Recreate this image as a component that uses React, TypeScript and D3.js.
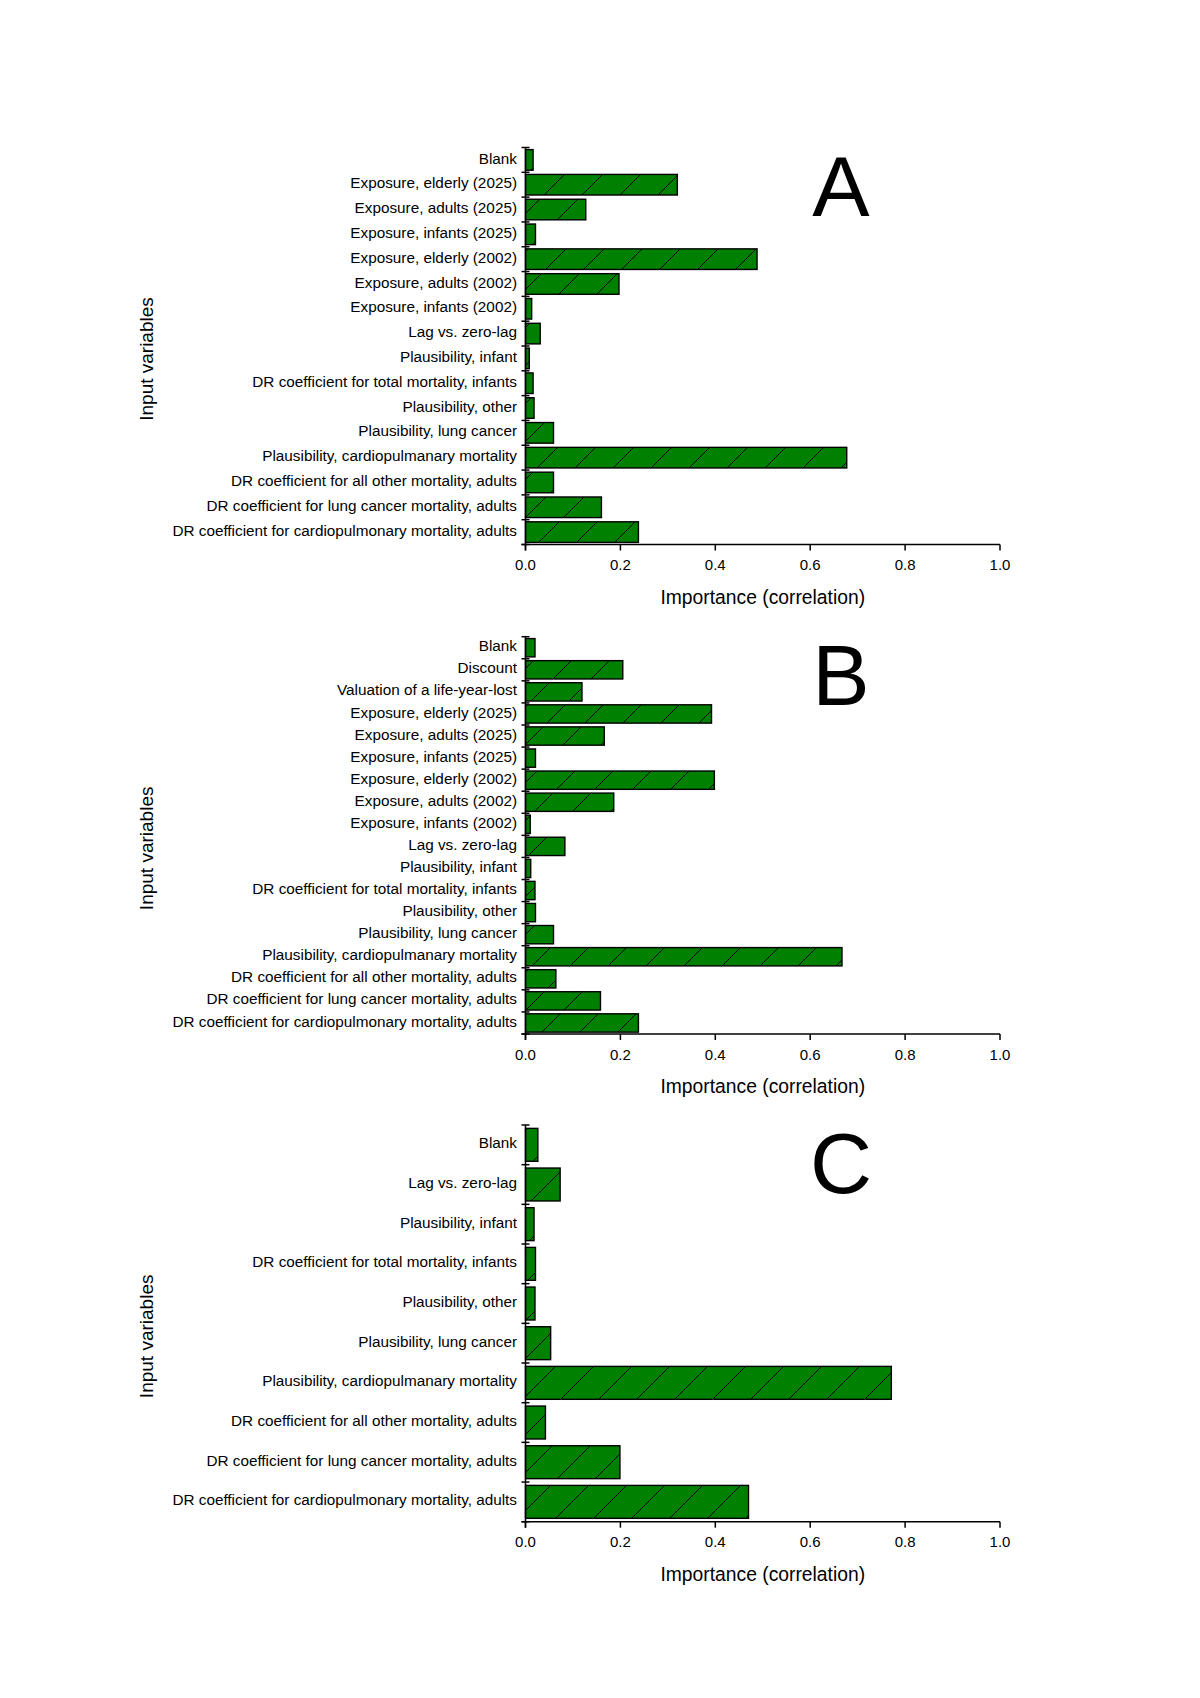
import React from "react";
import * as d3 from "d3";

const categoriesA = [
  "Blank",
  "Exposure, elderly (2025)",
  "Exposure, adults (2025)",
  "Exposure, infants (2025)",
  "Exposure, elderly (2002)",
  "Exposure, adults (2002)",
  "Exposure, infants (2002)",
  "Lag vs. zero-lag",
  "Plausibility, infant",
  "DR coefficient for total mortality, infants",
  "Plausibility, other",
  "Plausibility, lung cancer",
  "Plausibility, cardiopulmanary mortality",
  "DR coefficient for all other mortality, adults",
  "DR coefficient for lung cancer mortality, adults",
  "DR coefficient for cardiopulmonary mortality, adults",
];
const valuesA = [0.016, 0.32, 0.127, 0.021, 0.488, 0.197, 0.013, 0.031, 0.008, 0.016, 0.018, 0.059, 0.677, 0.059, 0.16, 0.238];

const categoriesB = [
  "Blank",
  "Discount",
  "Valuation of a life-year-lost",
  "Exposure, elderly (2025)",
  "Exposure, adults (2025)",
  "Exposure, infants (2025)",
  "Exposure, elderly (2002)",
  "Exposure, adults (2002)",
  "Exposure, infants (2002)",
  "Lag vs. zero-lag",
  "Plausibility, infant",
  "DR coefficient for total mortality, infants",
  "Plausibility, other",
  "Plausibility, lung cancer",
  "Plausibility, cardiopulmanary mortality",
  "DR coefficient for all other mortality, adults",
  "DR coefficient for lung cancer mortality, adults",
  "DR coefficient for cardiopulmonary mortality, adults",
];
const valuesB = [0.02, 0.205, 0.119, 0.392, 0.166, 0.021, 0.398, 0.186, 0.01, 0.083, 0.011, 0.02, 0.021, 0.059, 0.667, 0.064, 0.158, 0.238];

const categoriesC = [
  "Blank",
  "Lag vs. zero-lag",
  "Plausibility, infant",
  "DR coefficient for total mortality, infants",
  "Plausibility, other",
  "Plausibility, lung cancer",
  "Plausibility, cardiopulmanary mortality",
  "DR coefficient for all other mortality, adults",
  "DR coefficient for lung cancer mortality, adults",
  "DR coefficient for cardiopulmonary mortality, adults",
];
const valuesC = [0.026, 0.073, 0.018, 0.021, 0.02, 0.053, 0.771, 0.042, 0.199, 0.47];

const xTicks = [0, 0.2, 0.4, 0.6, 0.8, 1.0];

const FONT = "'Liberation Sans', Arial, Helvetica, sans-serif";

type PanelProps = {
  cats: string[];
  vals: number[];
  top: number;
  bottom: number;
  letter: string;
  pid: string;
  pOffset: number;
};

function Panel({ cats, vals, top, bottom, letter, pid, pOffset }: PanelProps) {
  const x = d3.scaleLinear().domain([0, 1]).range([525.5, 1000]);
  const y = d3
    .scaleBand<string>()
    .domain(cats)
    .range([top, bottom])
    .paddingInner(0.17)
    .paddingOuter(0.085);
  const step = y.step();
  const x0 = x(0);
  const boundaries = d3.range(cats.length + 1).map((i) => top + i * step);
  const P = 38;
  return (
    <g>
      <defs>
        <pattern id={pid} patternUnits="userSpaceOnUse" width={P} height={P} x={pOffset} y={0}>
          <rect width={P} height={P} fill="#008000" />
          <line x1={0} y1={P} x2={P} y2={0} stroke="#000" strokeWidth={1} />
          <line x1={-P} y1={P} x2={0} y2={0} stroke="#000" strokeWidth={1} />
          <line x1={P} y1={P} x2={2 * P} y2={0} stroke="#000" strokeWidth={1} />
        </pattern>
      </defs>
      {cats.map((c, i) => (
        <rect
          key={c}
          x={x0}
          y={y(c)}
          width={x(vals[i]) - x0}
          height={y.bandwidth()}
          fill={`url(#${pid})`}
          stroke="#000"
          strokeWidth={1.4}
        />
      ))}
      {/* y axis */}
      <line x1={x0} x2={x0} y1={top} y2={bottom + 6} stroke="#000" strokeWidth={1.5} />
      {boundaries.map((b, i) => (
        <line key={i} x1={x0 - 4} x2={x0 + 4} y1={b} y2={b} stroke="#000" strokeWidth={1.5} />
      ))}
      {cats.map((c) => (
        <text
          key={c}
          x={517}
          y={(y(c) as number) + y.bandwidth() / 2 + 5.4 - 1.8}
          textAnchor="end"
          fontSize={15.3}
          fontFamily={FONT}
          fill="#000"
        >
          {c}
        </text>
      ))}
      {/* x axis */}
      <line x1={x0 - 4} x2={x(1)} y1={bottom} y2={bottom} stroke="#000" strokeWidth={1.5} />
      {xTicks.map((t) => (
        <g key={t}>
          <line x1={x(t)} x2={x(t)} y1={bottom} y2={bottom + 6} stroke="#000" strokeWidth={1.5} />
          <text x={x(t)} y={bottom + 25.5} textAnchor="middle" fontSize={15} fontFamily={FONT} fill="#000">
            {t.toFixed(1)}
          </text>
        </g>
      ))}
      <text
        x={(x(0) + x(1)) / 2}
        y={bottom + 59}
        textAnchor="middle"
        fontSize={19.3}
        fontFamily={FONT}
        fill="#000"
      >
        Importance (correlation)
      </text>
      <text
        transform={`translate(153, ${(top + bottom) / 2 + 13}) rotate(-90)`}
        textAnchor="middle"
        fontSize={19}
        fontFamily={FONT}
        fill="#000"
      >
        Input variables
      </text>
      <text x={841} y={top + 68} textAnchor="middle" fontSize={86} fontFamily={FONT} fill="#000">
        {letter}
      </text>
    </g>
  );
}

export default function App() {
  return (
    <svg
      width={1200}
      height={1698}
      viewBox="0 0 1200 1698"
      style={{ position: "absolute", left: 0, top: 0, background: "#fff" }}
    >
      <rect width={1200} height={1698} fill="#fff" />
      <Panel cats={categoriesA} vals={valuesA} top={147.5} bottom={544.5} letter="A" pid="hatchA" pOffset={17} />
      <Panel cats={categoriesB} vals={valuesB} top={636.7} bottom={1034} letter="B" pid="hatchB" pOffset={16} />
      <Panel cats={categoriesC} vals={valuesC} top={1125} bottom={1521.7} letter="C" pid="hatchC" pOffset={22} />
    </svg>
  );
}
